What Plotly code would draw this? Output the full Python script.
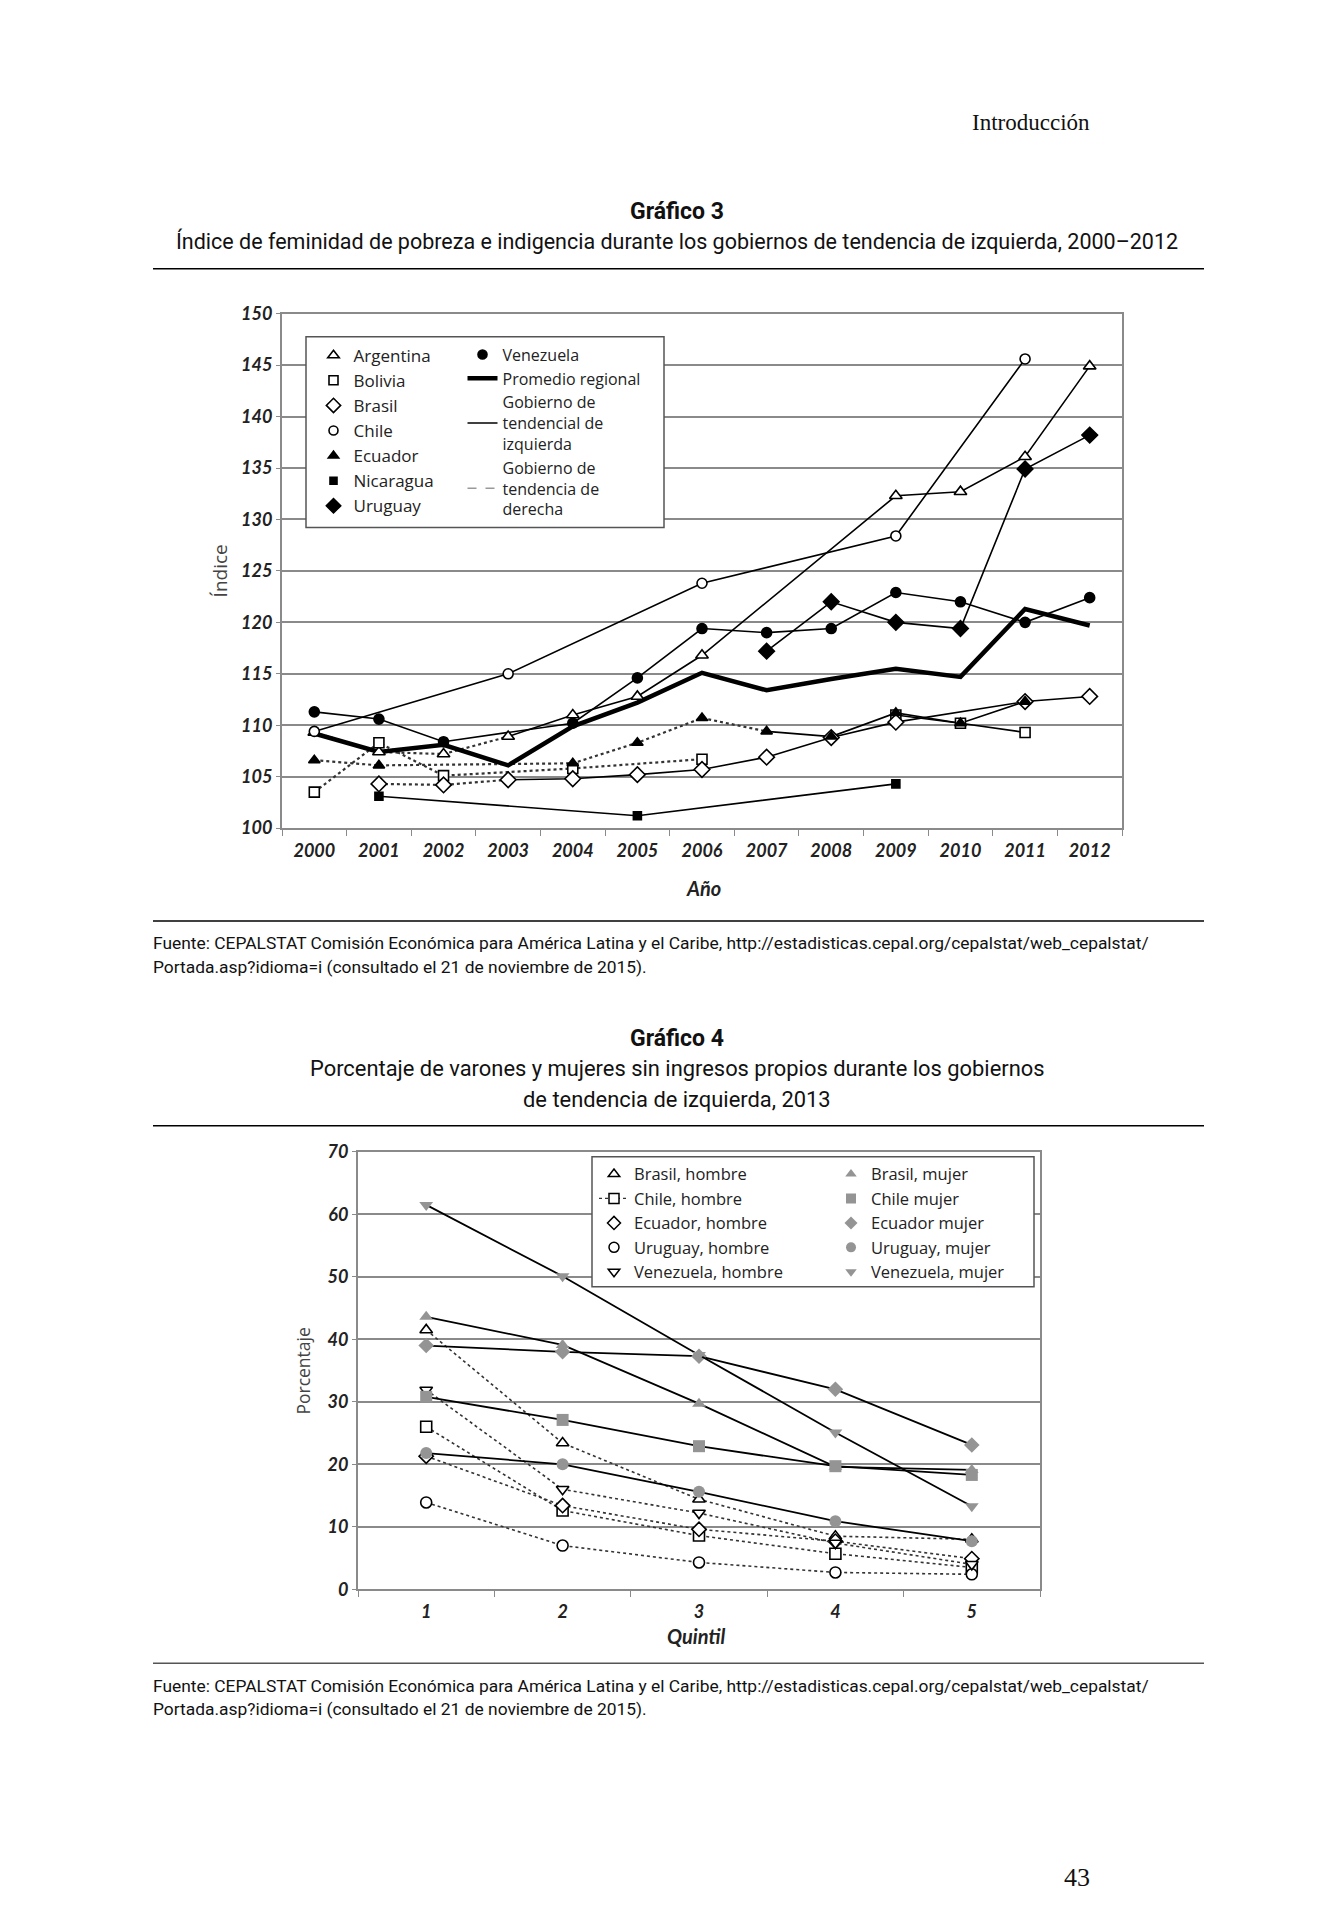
import plotly.graph_objects as go

W, H = 1323, 1920

# page coordinates (pixels, top-left origin) -> paper fractions
def px(x):
    return (x - 8) / W

def py(y):
    return 1 - (y / 0.9896 - 19.2) / H

# ---------------- Gráfico 3 data ----------------
anios = ["2000", "2001", "2002", "2003", "2004", "2005", "2006",
         "2007", "2008", "2009", "2010", "2011", "2012"]

argentina = [109.3, 107.4, 107.2, 108.9, 111.0, 112.8, 116.8, None, None, 132.3, 132.7, 136.1, 144.9]
bolivia = [103.5, 108.3, 105.1, None, 105.8, None, 106.7, None, None, 111.0, 110.2, 109.3, None]
brasil = [None, 104.3, 104.2, 104.7, 104.8, 105.2, 105.7, 106.9, 108.8, 110.3, None, 112.3, 112.8]
chile = [109.4, None, None, 115.0, None, None, 123.8, None, None, 128.4, None, 145.6, None]
ecuador = [106.6, 106.1, None, None, 106.3, 108.3, 110.7, 109.4, 108.9, 111.2, 110.2, 112.3, None]
nicaragua = [None, 103.1, None, None, None, 101.2, None, None, None, 104.3, None, None, None]
uruguay = [None, None, None, None, None, None, None, 117.2, 122.0, 120.0, 119.4, 134.9, 138.2]
venezuela = [111.3, 110.6, 108.4, None, 110.2, 114.6, 119.4, 119.0, 119.4, 122.9, 122.0, 120.0, 122.4]
promedio = [109.2, 107.4, 108.1, 106.1, 109.9, 112.2, 115.1, 113.4, 114.5, 115.5, 114.7, 121.3, 119.7]

# tramos: (inicio, fin, tendencia) en índices de años
tramos = {
    "Argentina": [(0, 3, "der"), (3, 12, "izq")],
    "Bolivia": [(0, 6, "der"), (9, 11, "izq")],
    "Brasil": [(1, 3, "der"), (3, 12, "izq")],
    "Chile": [(0, 11, "izq")],
    "Ecuador": [(0, 7, "der"), (7, 11, "izq")],
    "Nicaragua": [(1, 9, "izq")],
    "Uruguay": [(7, 12, "izq")],
    "Venezuela": [(0, 12, "izq")],
}

paises = {
    "Argentina": (argentina, "triangle-up", "white", 11),
    "Bolivia": (bolivia, "square", "white", 10),
    "Brasil": (brasil, "diamond", "white", 12),
    "Chile": (chile, "circle", "white", 10),
    "Ecuador": (ecuador, "triangle-up", "black", 10),
    "Nicaragua": (nicaragua, "square", "black", 8),
    "Uruguay": (uruguay, "diamond", "black", 12),
    "Venezuela": (venezuela, "circle", "black", 10),
}

# ---------------- Gráfico 4 data ----------------
quintiles = ["1", "2", "3", "4", "5"]
brasil_hombre = [41.5, 23.4, 14.4, 8.5, 8.0]
chile_hombre = [26.0, 12.6, 8.6, 5.7, 3.5]
ecuador_hombre = [21.3, 13.4, 9.6, 7.7, 4.9]
uruguay_hombre = [13.9, 7.0, 4.3, 2.7, 2.4]
venezuela_hombre = [31.9, 16.0, 12.2, 7.4, 4.0]
brasil_mujer = [43.6, 39.1, 29.7, 19.6, 19.1]
chile_mujer = [30.8, 27.1, 22.9, 19.7, 18.3]
ecuador_mujer = [39.0, 38.0, 37.3, 32.0, 23.1]
uruguay_mujer = [21.8, 20.0, 15.6, 10.9, 7.7]
venezuela_mujer = [61.5, 50.1, 37.5, 25.1, 13.3]

fig = go.Figure()

LINE_IZQ = dict(color="black", width=1.6, dash="solid")
LINE_DER = dict(color="#333333", width=2.2, dash="dot")

# ---- Chart 1 traces ----
for nombre, (vals, sym, fill, size) in paises.items():
    for (a, b, tend) in tramos[nombre]:
        xs = [anios[i] for i in range(a, b + 1) if vals[i] is not None]
        ys = [vals[i] for i in range(a, b + 1) if vals[i] is not None]
        fig.add_trace(go.Scatter(
            x=xs, y=ys, mode="lines", xaxis="x", yaxis="y",
            line=LINE_IZQ if tend == "izq" else LINE_DER,
            showlegend=False, hoverinfo="skip"))

fig.add_trace(go.Scatter(x=anios, y=promedio, mode="lines", xaxis="x", yaxis="y",
                         name="Promedio regional",
                         line=dict(color="black", width=4.5), showlegend=False))

for nombre, (vals, sym, fill, size) in paises.items():
    xs = [anios[i] for i in range(13) if vals[i] is not None]
    ys = [v for v in vals if v is not None]
    fig.add_trace(go.Scatter(
        x=xs, y=ys, mode="markers", xaxis="x", yaxis="y", name=nombre,
        marker=dict(symbol=sym, color=fill, size=size, line=dict(color="black", width=1.6)),
        showlegend=False))

# legend entries chart 1
for nombre in ["Argentina", "Bolivia", "Brasil", "Chile", "Ecuador", "Nicaragua", "Uruguay"]:
    vals, sym, fill, size = paises[nombre]
    fig.add_trace(go.Scatter(x=[None], y=[None], mode="markers", name=nombre, legend="legend",
                             marker=dict(symbol=sym, color=fill, size=size - 1,
                                         line=dict(color="black", width=1.6))))
vals, sym, fill, size = paises["Venezuela"]
fig.add_trace(go.Scatter(x=[None], y=[None], mode="markers", name="Venezuela", legend="legend2",
                         marker=dict(symbol=sym, color=fill, size=size - 1,
                                     line=dict(color="black", width=1.6))))
fig.add_trace(go.Scatter(x=[None], y=[None], mode="lines", name="Promedio regional", legend="legend2",
                         line=dict(color="black", width=4.5)))
fig.add_trace(go.Scatter(x=[None], y=[None], mode="lines", legend="legend2",
                         name="Gobierno de<br>tendencial de<br>izquierda", line=LINE_IZQ))
fig.add_trace(go.Scatter(x=[None], y=[None], mode="lines", legend="legend2",
                         name="Gobierno de<br>tendencia de<br>derecha",
                         line=dict(color="#999999", width=1.5, dash="dash")))

# ---- Chart 2 traces ----
GRIS = "#949494"
mujeres = [
    ("Brasil, mujer", brasil_mujer, "triangle-up"),
    ("Chile mujer", chile_mujer, "square"),
    ("Ecuador mujer", ecuador_mujer, "diamond"),
    ("Uruguay, mujer", uruguay_mujer, "circle"),
    ("Venezuela, mujer", venezuela_mujer, "triangle-down"),
]
hombres = [
    ("Brasil, hombre", brasil_hombre, "triangle-up"),
    ("Chile, hombre", chile_hombre, "square"),
    ("Ecuador, hombre", ecuador_hombre, "diamond"),
    ("Uruguay, hombre", uruguay_hombre, "circle"),
    ("Venezuela, hombre", venezuela_hombre, "triangle-down"),
]
for nombre, vals, sym in hombres:
    fig.add_trace(go.Scatter(
        x=quintiles, y=vals, mode="lines+markers", xaxis="x2", yaxis="y2", name=nombre,
        line=dict(color="#333333", width=1.6, dash="dot"),
        marker=dict(symbol=sym, color="white", size=11, line=dict(color="black", width=1.6)),
        showlegend=False))
for nombre, vals, sym in mujeres:
    fig.add_trace(go.Scatter(
        x=quintiles, y=vals, mode="lines+markers", xaxis="x2", yaxis="y2", name=nombre,
        line=dict(color="black", width=1.8),
        marker=dict(symbol=sym, color=GRIS, size=12, line=dict(color=GRIS, width=0)),
        showlegend=False))

for nombre, vals, sym in hombres:
    modo = "lines+markers" if nombre.startswith("Chile") else "markers"
    fig.add_trace(go.Scatter(x=[None], y=[None], mode=modo, name=nombre, legend="legend3",
                             line=dict(color="#333333", width=1.2, dash="dot"),
                             marker=dict(symbol=sym, color="white", size=10,
                                         line=dict(color="black", width=1.5))))
for nombre, vals, sym in mujeres:
    fig.add_trace(go.Scatter(x=[None], y=[None], mode="markers", name=nombre, legend="legend4",
                             marker=dict(symbol=sym, color=GRIS, size=10)))

# ---------------- Layout ----------------
TICKFONT = dict(family="Lato, Carlito, sans-serif", size=18, color="#222222",
                weight="bold", style="italic")
GRID = "#8a8a8a"
NARROW = "Roboto, Liberation Sans, sans-serif"
SERIF = "Liberation Serif, DejaVu Serif, serif"
LEGFONT = "Open Sans, Lato, sans-serif"

axis_common = dict(showline=True, mirror=True, linecolor=GRID, linewidth=2,
                   gridcolor=GRID, gridwidth=1.5, zeroline=False, tickfont=TICKFONT)

fig.update_layout(
    width=W, height=H, margin=dict(l=0, r=0, t=0, b=0),
    paper_bgcolor="white", plot_bgcolor="white",
    xaxis=dict(domain=[px(282), px(1122)], anchor="y", type="category",
               categoryorder="array", categoryarray=anios, range=[-0.5, 12.5],
               ticks="outside", tickson="boundaries", ticklen=6, tickcolor=GRID,
               ticklabelstandoff=5, showgrid=False, **axis_common),
    yaxis=dict(domain=[py(828), py(313)], anchor="x", range=[100, 150], dtick=5,
               ticks="outside", ticklen=4, tickcolor=GRID, **axis_common),
    xaxis2=dict(domain=[px(358), px(1040)], anchor="y2", type="category",
                categoryorder="array", categoryarray=quintiles, range=[-0.5, 4.5],
                ticks="outside", tickson="boundaries", ticklen=6, tickcolor=GRID,
                ticklabelstandoff=5, showgrid=False, **axis_common),
    yaxis2=dict(domain=[py(1590), py(1152)], anchor="x2", range=[0, 70], dtick=10,
                ticks="outside", ticklen=4, tickcolor=GRID, **axis_common),
    legend=dict(x=px(313.5), y=py(337), xanchor="left", yanchor="top",
                font=dict(family=LEGFONT, size=17, color="#222222"),
                bgcolor="rgba(0,0,0,0)", borderwidth=0, tracegroupgap=0),
    legend2=dict(x=px(462.5), y=py(337), xanchor="left", yanchor="top",
                 font=dict(family=LEGFONT, size=16, color="#222222"),
                 bgcolor="rgba(0,0,0,0)", borderwidth=0, tracegroupgap=0),
    legend3=dict(x=px(594), y=py(1157), xanchor="left", yanchor="top",
                 font=dict(family=LEGFONT, size=16.5, color="#222222"),
                 bgcolor="rgba(0,0,0,0)", borderwidth=0, tracegroupgap=0),
    legend4=dict(x=px(831), y=py(1157), xanchor="left", yanchor="top",
                 font=dict(family=LEGFONT, size=16.5, color="#222222"),
                 bgcolor="rgba(0,0,0,0)", borderwidth=0, tracegroupgap=0),
    showlegend=True,
)

shapes = []
for yy, wcol in [(268, "black"), (921, "black"), (1126, "black"), (1664, "#555555")]:
    shapes.append(dict(type="line", xref="paper", yref="paper", x0=px(153), x1=px(1204),
                       y0=py(yy), y1=py(yy), line=dict(color=wcol, width=1.6)))
# legend boxes
shapes.append(dict(type="rect", xref="paper", yref="paper", x0=px(306), x1=px(664),
                   y0=py(527), y1=py(336), line=dict(color="#555555", width=1.5),
                   fillcolor="white", layer="above"))
shapes.append(dict(type="rect", xref="paper", yref="paper", x0=px(592), x1=px(1034),
                   y0=py(1287), y1=py(1157), line=dict(color="#555555", width=1.5),
                   fillcolor="white", layer="above"))
fig.update_layout(shapes=shapes)

def ann(text, x, y, size, family, xanchor="center", weight="normal", style="normal",
        color="#111111", angle=0):
    if xanchor == "left":
        x -= 2
    elif xanchor == "right":
        x += 2
    return dict(text=text, x=px(x), y=py(y), xref="paper", yref="paper", showarrow=False,
                xanchor=xanchor, yanchor="middle", textangle=angle,
                font=dict(size=size, family=family, color=color, weight=weight, style=style))

fuente1 = "Fuente: CEPALSTAT Comisión Económica para América Latina y el Caribe, http://estadisticas.cepal.org/cepalstat/web_cepalstat/"
fuente2 = "Portada.asp?idioma=i (consultado el 21 de noviembre de 2015)."

annotations = [
    ann("Introducción", 1090, 122, 23, SERIF, xanchor="right"),
    ann("Gráfico 3", 677, 211, 23, NARROW, weight="bold"),
    ann("Índice de feminidad de pobreza e indigencia durante los gobiernos de tendencia de izquierda, 2000–2012",
        677, 240, 21.5, NARROW),
    ann("Índice", 220, 571, 19, "Open Sans, sans-serif", color="#444444", angle=-90),
    ann("Año", 704, 888, 20, "Lato, sans-serif", weight="bold", style="italic", color="#222222"),
    ann(fuente1, 153, 943, 17.4, NARROW, xanchor="left"),
    ann(fuente2, 153, 967, 17.4, NARROW, xanchor="left"),
    ann("Gráfico 4", 677, 1039, 23, NARROW, weight="bold"),
    ann("Porcentaje de varones y mujeres sin ingresos propios durante los gobiernos", 677, 1069, 21.9, NARROW),
    ann("de tendencia de izquierda, 2013", 677, 1100, 21.9, NARROW),
    ann("Porcentaje", 303, 1372, 17.5, "Open Sans, sans-serif", color="#444444", angle=-90),
    ann("Quintil", 696, 1637, 20, "Lato, sans-serif", weight="bold", style="italic", color="#222222"),
    ann(fuente1, 153, 1687, 17.4, NARROW, xanchor="left"),
    ann(fuente2, 153, 1710, 17.4, NARROW, xanchor="left"),
    ann("43", 1090, 1878, 26, SERIF, xanchor="right"),
]
fig.update_layout(annotations=annotations)

fig.write_html("out.html")
